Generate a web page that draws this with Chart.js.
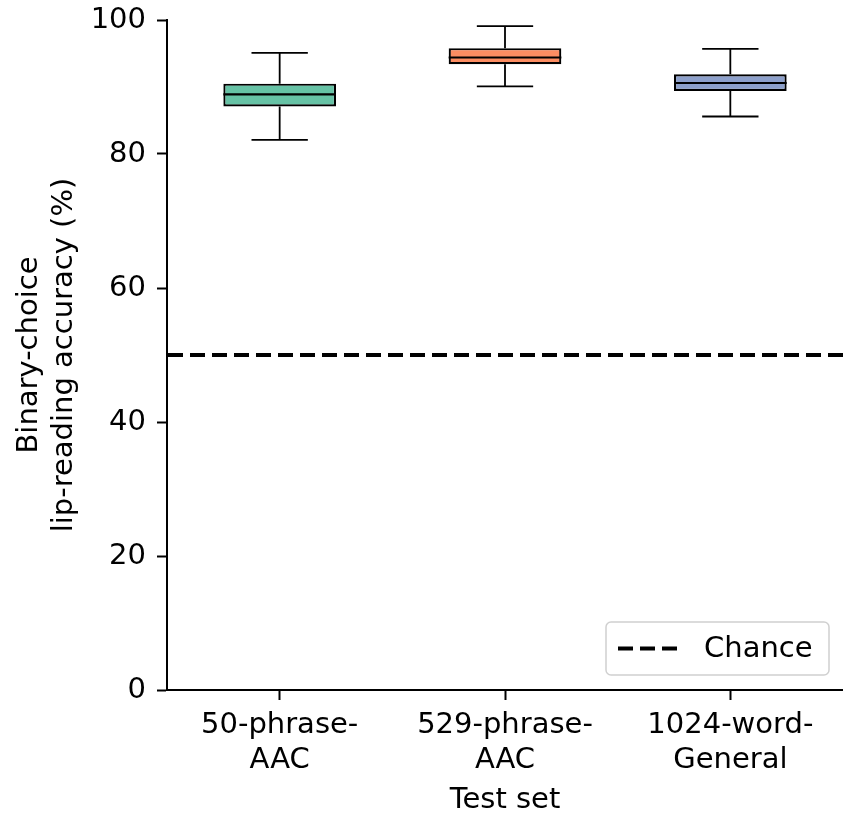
<!DOCTYPE html>
<html>
<head>
<meta charset="utf-8">
<script src="https://cdn.jsdelivr.net/npm/chart.js@4.4.1/dist/chart.umd.min.js"></script>
<style>
  body { margin: 0; background: #fff; }
  canvas { display: block; }
</style>
</head>
<body>
<canvas id="accChart" width="843" height="814"></canvas>
<script>
// Test sets and box statistics (accuracy, %)
const testSets = [["50-phrase-", "AAC"], ["529-phrase-", "AAC"], ["1024-word-", "General"]];
const whiskerLow = [82.1, 90.1, 85.6];
const q1 = [87.1, 93.4, 89.4];
const median = [88.9, 94.4, 90.6];
const q3 = [90.5, 95.8, 91.9];
const whiskerHigh = [95.1, 99.1, 95.7];
const boxColors = ["#66c2a5", "#fc8d62", "#8da0cb"];
const chanceLevel = 50;
const chanceLabel = "Chance";

const FONT = "'DejaVu Sans', sans-serif";
const FONT_SIZE = 29;

// whiskers, caps and medians on top of the floating bars, plus the chance line and its legend
const boxPlotExtras = {
  id: "boxPlotExtras",
  afterDatasetsDraw(chart) {
    const ctx = chart.ctx;
    const y = chart.scales.y;
    const area = chart.chartArea;
    const bars = chart.getDatasetMeta(0).data;

    ctx.save();
    ctx.strokeStyle = "#000";
    bars.forEach((bar, i) => {
      const cx = bar.x;
      const half = bar.width / 2;
      const capHalf = half / 2;
      ctx.lineWidth = 1.8;
      ctx.beginPath();
      ctx.moveTo(cx, y.getPixelForValue(q3[i]));
      ctx.lineTo(cx, y.getPixelForValue(whiskerHigh[i]));
      ctx.moveTo(cx, y.getPixelForValue(q1[i]));
      ctx.lineTo(cx, y.getPixelForValue(whiskerLow[i]));
      ctx.moveTo(cx - capHalf, y.getPixelForValue(whiskerHigh[i]));
      ctx.lineTo(cx + capHalf, y.getPixelForValue(whiskerHigh[i]));
      ctx.moveTo(cx - capHalf, y.getPixelForValue(whiskerLow[i]));
      ctx.lineTo(cx + capHalf, y.getPixelForValue(whiskerLow[i]));
      ctx.stroke();
      ctx.lineWidth = 2.2;
      ctx.beginPath();
      ctx.moveTo(cx - half, y.getPixelForValue(median[i]));
      ctx.lineTo(cx + half, y.getPixelForValue(median[i]));
      ctx.stroke();
    });

    // chance level
    const cy = y.getPixelForValue(chanceLevel);
    ctx.lineWidth = 4;
    ctx.setLineDash([15, 7]);
    ctx.beginPath();
    ctx.moveTo(area.left + 1, cy);
    ctx.lineTo(area.right, cy);
    ctx.stroke();

    // legend box, bottom right
    const lx = 606, ly = 622, lw = 223, lh = 53;
    ctx.setLineDash([]);
    ctx.fillStyle = "rgba(255,255,255,0.8)";
    ctx.strokeStyle = "#d0d0d0";
    ctx.lineWidth = 1.5;
    ctx.beginPath();
    ctx.roundRect(lx, ly, lw, lh, 5);
    ctx.fill();
    ctx.stroke();
    ctx.strokeStyle = "#000";
    ctx.lineWidth = 4;
    ctx.setLineDash([15, 7]);
    ctx.beginPath();
    ctx.moveTo(lx + 12, ly + lh / 2);
    ctx.lineTo(lx + 72, ly + lh / 2);
    ctx.stroke();
    ctx.setLineDash([]);
    ctx.fillStyle = "#000";
    ctx.font = FONT_SIZE + "px " + FONT;
    ctx.textBaseline = "middle";
    ctx.textAlign = "left";
    ctx.fillText(chanceLabel, lx + 98, ly + lh / 2 + 1);
    ctx.restore();
  }
};

const canvas = document.getElementById("accChart").getContext("2d");

new Chart(canvas, {
  type: "bar",
  data: {
    labels: testSets,
    datasets: [
      {
        label: "Accuracy",
        data: q1.map((v, i) => [v, q3[i]]),
        backgroundColor: boxColors,
        borderColor: "#000",
        borderWidth: 2.2,
        borderSkipped: false,
        categoryPercentage: 1,
        barPercentage: 0.5,
      },
    ],
  },
  options: {
    responsive: false,
    animation: false,
    layout: { padding: { top: 20, right: 0, left: 0, bottom: 0 } },
    plugins: {
      legend: { display: false },
      tooltip: { enabled: false },
    },
    scales: {
      x: {
        afterFit: (s) => { s.height = 124; },
        grid: { offset: false, drawOnChartArea: false, tickLength: 10, tickWidth: 2, tickColor: "#000" },
        border: { display: true, color: "#000", width: 2 },
        ticks: {
          color: "#000",
          padding: 8,
          font: { family: FONT, size: FONT_SIZE, lineHeight: 1.2 },
        },
        title: {
          display: true,
          text: "Test set",
          color: "#000",
          padding: { top: 6, bottom: -4 },
          font: { family: FONT, size: FONT_SIZE, lineHeight: 1.2 },
        },
      },
      y: {
        min: 0,
        max: 100,
        afterFit: (s) => {
          s.width = 167;
          s.paddingTop = 0;
          s.paddingBottom = 0;
        },
        grid: { drawOnChartArea: false, tickLength: 10, tickWidth: 2, tickColor: "#000" },
        border: { display: true, color: "#000", width: 2 },
        ticks: {
          stepSize: 20,
          color: "#000",
          padding: 11,
          font: { family: FONT, size: FONT_SIZE },
        },
        title: {
          display: true,
          text: ["Binary-choice", "lip-reading accuracy (%)"],
          color: "#000",
          padding: { top: 12, bottom: 0 },
          font: { family: FONT, size: FONT_SIZE, lineHeight: 1.2 },
        },
      },
    },
  },
  plugins: [boxPlotExtras],
});
</script>
</body>
</html>
